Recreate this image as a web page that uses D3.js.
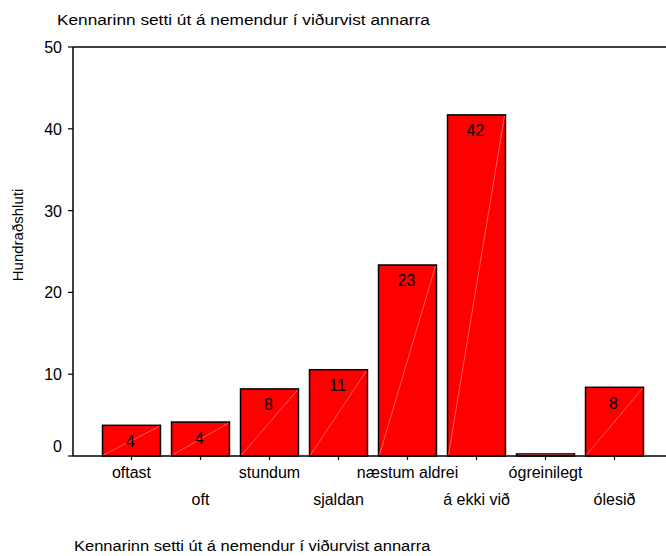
<!DOCTYPE html>
<html>
<head>
<meta charset="utf-8">
<script src="https://cdn.jsdelivr.net/npm/d3@7"></script>
<style>
  html, body { margin: 0; padding: 0; background: #fff; }
  svg { display: block; font-family: "Liberation Sans", Arial, sans-serif; }
</style>
</head>
<body>
<svg id="chart" width="666" height="556"></svg>
<script>
const categories = ["oftast", "oft", "stundum", "sjaldan", "næstum aldrei", "á ekki við", "ógreinilegt", "ólesið"];
const values = [3.75, 4.15, 8.2, 10.55, 23.35, 41.7, 0.25, 8.4];
const yTicks = [0, 10, 20, 30, 40, 50];
const chartTitle = "Kennarinn setti út á nemendur í viðurvist annarra";
const yTitle = "Hundraðshluti";

(function () {
const svg = d3.select("#chart");
const pLeft = 73, pTop = 47, pBottom = 456, pRight = 666;

const y = d3.scaleLinear().domain([0, 50]).range([pBottom, pTop]);
const x = d3.scaleBand().domain(categories).range([97, 649]).paddingInner(0.16).paddingOuter(0.08);

// titles
svg.append("text").attr("transform", "translate(57,25) scale(1.15,1)").attr("font-size", 15).attr("fill", "#000").text(chartTitle);
svg.append("text").attr("transform", "translate(74,551) scale(1.1,1)").attr("font-size", 15).attr("fill", "#000").text(chartTitle);
svg.append("text")
  .attr("transform", `translate(23,235) rotate(-90)`)
  .attr("text-anchor", "middle")
  .attr("font-size", 15).attr("fill", "#000").text(yTitle);

// bars
const g = svg.append("g");
const bars = g.selectAll("g.bar").data(categories.map((c, i) => ({c, v: values[i]}))).join("g").attr("class", "bar");
bars.append("rect")
  .attr("x", d => x(d.c))
  .attr("y", d => y(d.v))
  .attr("width", x.bandwidth())
  .attr("height", d => y(0) - y(d.v))
  .attr("fill", "#ff0000")
  .attr("stroke", "#000")
  .attr("stroke-width", 1.5);
bars.append("line")
  .attr("x1", d => x(d.c) + 1).attr("y1", y(0) - 1)
  .attr("x2", d => x(d.c) + x.bandwidth() - 1).attr("y2", d => y(d.v) + 1)
  .attr("stroke", "#ff9a9a").attr("stroke-width", 0.6);
bars.filter(d => Math.round(d.v) > 0).append("text")
  .attr("x", d => x(d.c) + x.bandwidth() / 2 - 1)
  .attr("y", d => y(d.v) + 21.5)
  .attr("text-anchor", "middle")
  .attr("font-size", 16).attr("fill", "#000")
  .text(d => Math.round(d.v));

// frame / axes
svg.append("line").attr("x1", pLeft).attr("x2", pRight).attr("y1", pTop).attr("y2", pTop).attr("stroke", "#000").attr("stroke-width", 1.5);
svg.append("line").attr("x1", pLeft).attr("x2", pRight).attr("y1", pBottom).attr("y2", pBottom).attr("stroke", "#000").attr("stroke-width", 1.5);
svg.append("line").attr("x1", pLeft).attr("x2", pLeft).attr("y1", pTop).attr("y2", pBottom).attr("stroke", "#000").attr("stroke-width", 1.5);

// y ticks
const yt = svg.append("g").selectAll("g").data(yTicks).join("g");
yt.append("line").attr("x1", pLeft - 5).attr("x2", pLeft).attr("y1", d => y(d)).attr("y2", d => y(d)).attr("stroke", "#000").attr("stroke-width", 1.2);
yt.append("text")
  .attr("x", 62)
  .attr("y", d => y(d) + (d === 0 ? -4 : 6))
  .attr("text-anchor", "end")
  .attr("font-size", 16).attr("fill", "#000")
  .text(d => d);

// x ticks
const xt = svg.append("g").selectAll("g").data(categories).join("g");
xt.append("line")
  .attr("x1", d => x(d) + x.bandwidth() / 2).attr("x2", d => x(d) + x.bandwidth() / 2)
  .attr("y1", pBottom).attr("y2", pBottom + 4)
  .attr("stroke", "#000").attr("stroke-width", 1.2);
xt.append("text")
  .attr("x", d => x(d) + x.bandwidth() / 2)
  .attr("y", (d, i) => i % 2 === 0 ? 478 : 505)
  .attr("text-anchor", "middle")
  .attr("font-size", 16).attr("fill", "#000")
  .text(d => d);
})();
</script>
</body>
</html>
